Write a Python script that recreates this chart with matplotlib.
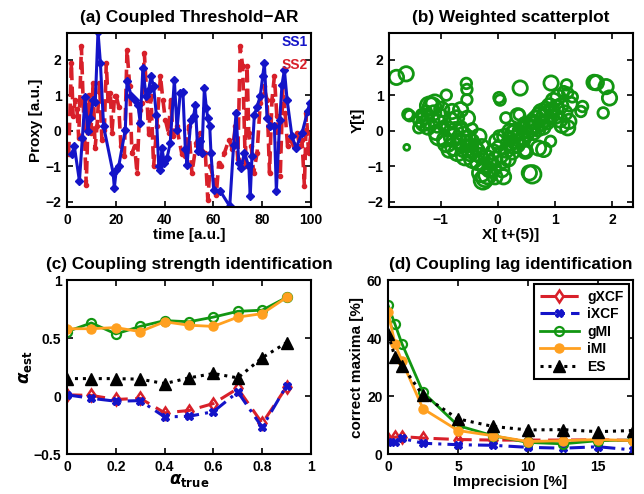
import matplotlib
matplotlib.use('Agg')
import matplotlib.pyplot as plt
import numpy as np

plt.rcParams['font.family'] = ['Liberation Sans', 'DejaVu Sans']
plt.rcParams['font.weight'] = 'bold'
plt.rcParams['axes.labelweight'] = 'bold'
plt.rcParams['axes.titleweight'] = 'bold'
plt.rcParams['mathtext.fontset'] = 'dejavusans'

# ---------------- (a) Coupled Threshold-AR ----------------
ss1_t = [2.0, 3.0, 5.1, 6.3, 7.4, 8.5, 9.6, 10.7, 11.6, 12.7, 13.7, 15.0, 18.9, 19.4, 20.2, 21.2,
         23.9, 24.6, 26.4, 27.7, 29.1, 30.0, 31.1, 32.4, 33.5, 34.4, 35.5, 36.6, 37.6, 38.3, 38.9,
         39.9, 41.0, 42.3, 44.0, 45.1, 46.4, 47.5, 48.5, 49.2, 50.8, 51.9, 52.6, 53.6, 54.4, 55.3,
         56.3, 57.1, 57.7, 58.5, 59.0, 60.1, 62.8, 66.7, 68.3, 69.3, 70.4, 71.3, 72.7, 74.5, 75.1,
         75.8, 76.8, 77.9, 79.2, 80.2, 80.9, 82.0, 83.3, 85.0, 85.8, 87.2, 88.1, 89.1, 90.2, 92.2,
         93.9, 96.3, 98.6, 99.5, 100.0]
ss1_v = [-0.65, -0.44, -1.42, -0.20, 0.94, 0.00, 0.36, 0.87, 0.82, 2.79, 1.90, 0.12, -1.19, -1.61,
         -1.10, -1.00, 0.03, 1.39, 0.97, 0.87, 0.73, 0.22, 1.76, 0.97, 1.15, 1.53, 1.25, 0.45, -1.00,
         -1.10, -0.49, -0.91, -0.77, -0.35, 1.43, 0.03, 1.06, 1.10, -0.53, -0.96, 0.31, 0.40, 0.73,
         -0.58, -0.30, -0.63, 1.20, 0.64, 0.36, 0.12, -0.63, -1.66, -1.70, -2.13, -0.39, 0.50, -0.91,
         -1.05, -0.63, -1.00, -1.85, -0.72, 0.45, 0.68, 0.97, 1.53, 1.90, 0.36, 0.12, 0.12, -1.70,
         0.31, 1.29, 1.71, 0.87, -0.16, -0.49, -0.07, 0.54, 0.78, 0.59]

ss2_t = [0.7, 1.8, 2.5, 3.4, 4.1, 4.8, 5.9, 6.6, 7.9, 8.9, 9.8, 10.7, 11.5, 12.3, 13.3, 14.3, 15.3,
         16.1, 16.8, 17.8, 18.4, 19.5, 20.2, 21.2, 22.1, 23.5, 24.6, 25.7, 26.6, 27.7, 28.7, 29.8,
         30.7, 31.7, 32.8, 33.5, 34.4, 35.5, 36.8, 38.3, 39.3, 40.3, 41.6, 42.5, 43.5, 44.9, 47.1,
         48.5, 49.9, 51.2, 53.0, 54.4, 55.3, 56.7, 57.7, 58.7, 60.1, 61.2, 62.2, 63.1, 64.5, 66.4,
         67.8, 69.0, 70.0, 71.0, 72.0, 73.1, 73.8, 74.5, 75.5, 76.5, 77.9, 79.2, 80.6, 82.0, 83.0,
         84.0, 85.0, 86.0, 87.4, 88.5, 89.4, 90.4, 91.5, 92.9, 94.3, 95.4, 96.3, 97.3, 98.1, 99.0, 100.0]
ss2_v = [-0.67, 1.90, 0.40, 0.87, 0.60, -0.20, 2.37, 0.87, -1.52, 1.01, -0.07, 1.34, -0.50, 0.12,
         1.34, -0.25, 0.03, 1.90, 0.87, 1.06, -0.07, 0.97, 0.97, 0.68, -0.44, -0.72, 2.28, 1.25,
         -0.63, -0.44, -1.19, 0.59, 0.78, 2.18, 0.87, -0.10, 0.97, -1.00, 0.12, 1.53, 0.87, 0.31,
         -0.07, 0.87, -0.16, 0.12, -0.67, -0.72, 0.12, -1.19, -0.35, -0.07, -0.58, -0.63, -1.94,
         -1.00, -1.38, -1.80, -0.91, -1.00, -0.63, -0.25, -0.53, 0.12, -0.81, 2.37, 1.81, -1.00,
         1.81, -0.07, -0.44, -1.19, -0.63, 0.78, 1.25, 0.87, -1.19, 0.87, 1.53, 0.40, -1.28, 1.25,
         0.50, -0.44, -0.25, -0.44, -0.07, -0.44, -0.25, -1.56, 0.50, -0.63, -0.07]

# ---------------- (b) Weighted scatterplot ----------------
sc_x = [-1.77, -1.60, -1.57, -1.54, -1.59, -1.38, -1.35, -1.33, -1.30, -1.27, -1.25, -1.22, -1.20,
        -1.18, -1.15, -1.12, -1.10, -1.08, -1.05, -1.03, -1.00, -0.98, -0.95, -0.93, -0.90, -0.89,
        -0.87, -0.85, -0.82, -0.80, -0.78, -0.76, -0.74, -0.72, -0.70, -0.68, -0.65, -0.63, -0.62,
        -0.60, -0.58, -0.57, -0.55, -0.54, -0.54, -0.53, -0.52, -0.50, -0.48, -0.46, -0.45, -0.43,
        -0.40, -0.38, -0.35, -0.33, -0.31, -0.29, -0.28, -0.26, -0.24, -0.22, -0.20, -0.18, -0.15,
        -0.12, -0.10, -0.08, -0.05, -0.02, 0.00,
        0.02, 0.04, 0.05, 0.07, 0.09, 0.12, 0.14, 0.15, 0.18, 0.21, 0.23, 0.25, 0.27, 0.28, 0.30,
        0.32, 0.34, 0.35, 0.37, 0.39, 0.40, 0.42, 0.44, 0.46, 0.48, 0.50, 0.52, 0.55, 0.60, 0.57,
        0.60, 0.62, 0.65, 0.67, 0.70, 0.71, 0.73, 0.75, 0.77, 0.79, 0.80, 0.82, 0.84, 0.86, 0.88,
        0.90, 0.92, 0.93, 0.95, 0.97, 1.00, 1.02, 1.05, 1.08, 1.10, 1.12, 1.15, 1.17, 1.20, 1.22,
        1.22, 1.24, 1.26, 1.30, 1.45, 1.48, 1.68, 1.72, 1.84, 1.89, 1.95, 0.02, -0.05, 0.10, 0.48]
sc_y = [1.50, 1.60, 0.46, 0.42, -0.47, 0.08, 0.30, 0.45, 0.20, 0.40, 0.55, 0.10, 0.70, 0.30, 0.68,
        0.50, 0.76, -0.05, 0.20, -0.16, 0.40, 0.60, 0.12, -0.25, 1.00, -0.35, 0.05, -0.55, 0.30,
        0.54, -0.20, -0.45, 0.03, 0.36, -0.60, -0.30, 0.59, 0.10, -0.35, -0.10, -0.50, -0.72, 1.33,
        1.16, 0.87, 0.35, -0.20, -0.50, -0.65, -0.30, 0.05, -0.80, -0.45, -0.60, -0.90, -0.16,
        -0.70, -1.19, -0.45, -1.40, -1.00, -1.33, -0.75, -1.25, -1.10, -0.90, -1.05, -0.60, -1.30,
        -0.30, -0.45,
        0.93, 0.86, -0.70, -1.10, -0.85, -0.16, 0.36, -0.55, -0.80, -0.02, -0.35, -0.60, -0.44,
        -0.10, -0.25, -0.05, -0.40, 0.42, 0.45, 1.20, -0.15, 0.00, -0.25, 0.22, -0.58, -0.10, 0.05,
        -1.19, -1.23, 0.10, 0.25, -0.05, 0.15, 0.30, 0.05, -0.49, 0.40, 0.20, 0.50, 0.10, -0.53,
        0.35, 0.60, 0.25, 0.45, 0.70, -0.30, 1.34, 0.55, 0.85, 0.40, 0.65, 0.95, 0.30, 0.70, 0.15,
        1.10, 0.50, 1.29, 1.06, 0.08, 0.26, 0.75, 0.95, 0.54, 0.68, 1.36, 1.35, 0.50, 1.24, 0.92,
        -0.15, -0.80, -1.30, -0.58]
sc_w = [3, 3, 2, 2, 1, 2, 3, 2, 3, 3, 2, 3, 4, 4, 4, 3, 4, 3, 4, 4, 3, 3, 2, 3, 2, 4, 3, 3, 3, 3,
        4, 4, 3, 3, 4, 3, 3, 2, 4, 3, 4, 4, 2, 2, 2, 3, 3, 4, 3, 3, 2, 4, 3, 4, 3, 3, 3, 4, 3, 4,
        3, 4, 3, 4, 3, 3, 4, 3, 3, 3, 2,
        2, 2, 3, 3, 3, 3, 2, 3, 3, 3, 3, 3, 3, 4, 4, 4, 3, 3, 2, 3, 4, 4, 3, 2, 3, 3, 4, 3, 4, 3,
        3, 3, 4, 4, 3, 3, 4, 3, 4, 3, 3, 4, 3, 3, 4, 3, 2, 3, 3, 3, 3, 3, 3, 3, 3, 3, 2, 3, 2, 2,
        3, 3, 3, 2, 2, 2, 3, 3, 2, 3, 3, 2, 3, 3, 2]

# ---------------- (c) Coupling strength identification ----------------
alpha_true = [0.0, 0.1, 0.2, 0.3, 0.4, 0.5, 0.6, 0.7, 0.8, 0.9]
c_gxcf = [0.01, 0.005, -0.03, -0.02, -0.145, -0.125, -0.065, 0.065, -0.235, 0.078]
c_ixcf = [0.01, -0.02, -0.045, -0.04, -0.18, -0.175, -0.135, 0.035, -0.27, 0.09]
c_gmi = [0.555, 0.63, 0.535, 0.60, 0.65, 0.64, 0.68, 0.73, 0.74, 0.85]
c_imi = [0.58, 0.58, 0.59, 0.555, 0.64, 0.61, 0.60, 0.68, 0.71, 0.85]
c_es = [0.15, 0.15, 0.15, 0.145, 0.107, 0.156, 0.194, 0.156, 0.33, 0.46]

# ---------------- (d) Coupling lag identification ----------------
imprecision = [0.0, 0.5, 1.0, 2.5, 5.0, 7.5, 10.0, 12.5, 15.0, 17.5]
d_gxcf = [5.2, 5.8, 6.0, 5.5, 5.0, 4.8, 4.8, 4.8, 4.9, 4.7]
d_ixcf = [4.0, 4.0, 5.4, 3.7, 3.2, 3.0, 2.3, 2.0, 2.5, 1.4]
d_gmi = [51.3, 44.7, 38.0, 21.3, 9.8, 6.3, 4.0, 3.5, 4.6, 4.8]
d_imi = [49.0, 38.0, 32.0, 15.6, 8.1, 6.3, 4.3, 4.6, 5.0, 4.6]
d_es = [41.5, 33.4, 30.5, 20.2, 12.1, 9.5, 8.3, 8.4, 7.7, 8.1]

RED = '#d8202a'
BLUE = '#1414c8'
GREEN = '#129612'
ORANGE = '#ffa020'

fig = plt.figure(figsize=(6.44, 4.94), dpi=100)
W, H = 644, 494


def make_ax(l, r, t, b):
    ax = fig.add_axes([l / W, 1 - b / H, (r - l) / W, (b - t) / H])
    for s in ax.spines.values():
        s.set_linewidth(1.5)
    ax.tick_params(direction='in', top=True, right=True, length=4, width=1.2,
                   labelsize=10, pad=4)
    return ax


def bold_ticks(ax):
    for lab in ax.get_xticklabels() + ax.get_yticklabels():
        lab.set_fontweight('bold')


TS = 12.4
LS = 11
TPAD = 8

# (a)
ax = make_ax(67, 311, 33, 207)
ax.plot(ss2_t, ss2_v, color=RED, lw=2.6, ls=(0, (3.5, 1.8)), marker='o', ms=3)
ax.plot(ss1_t, ss1_v, color=BLUE, lw=2.2, ls='-', marker='D', ms=4.5)
ax.set_xlim(0, 100)
ax.set_ylim(-2.15, 2.75)
ax.set_xticks([0, 20, 40, 60, 80, 100])
ax.set_yticks([-2, -1, 0, 1, 2])
ax.set_yticklabels(['\u22122', '\u22121', '0', '1', '2'])
ax.set_title('(a) Coupled Threshold\u2212AR', fontsize=TS, pad=TPAD)
ax.set_xlabel('time [a.u.]', fontsize=LS, labelpad=1)
ax.set_ylabel('Proxy [a.u.]', fontsize=LS, labelpad=2)
ax.text(0.985, 0.948, 'SS1', color=BLUE, transform=ax.transAxes, ha='right', va='center',
        fontsize=10, fontweight='bold')
ax.text(0.985, 0.818, 'SS2', color=RED, transform=ax.transAxes, ha='right', va='center',
        fontsize=10, fontweight='bold')
bold_ticks(ax)

# (b)
ax = make_ax(389, 633, 33, 207)
sizes = [18 + 40 * (w - 1) ** 1.15 for w in sc_w]
ax.scatter(sc_x, sc_y, s=sizes, facecolors='none', edgecolors=GREEN, linewidths=2)
ax.set_xlim(-1.9, 2.36)
ax.set_ylim(-2.15, 2.75)
ax.set_xticks([-1, 0, 1, 2])
ax.set_xticklabels(['\u22121', '0', '1', '2'])
ax.set_yticks([-2, -1, 0, 1, 2])
ax.set_yticklabels(['\u22122', '\u22121', '0', '1', '2'])
ax.set_title('(b) Weighted scatterplot', fontsize=TS, pad=TPAD)
ax.set_xlabel('X[ t+(5)]', fontsize=LS, labelpad=1)
ax.set_ylabel('Y[t]', fontsize=LS, labelpad=2)
bold_ticks(ax)

# (c)
ax = make_ax(67, 311, 280, 454)
ax.plot(alpha_true, c_gxcf, color=RED, lw=2.2, ls=(0, (5, 2.5)), marker='d', ms=6,
        mfc='none', mew=1.8)
ax.plot(alpha_true, c_ixcf, color=BLUE, lw=2.2, ls=(0, (5, 2, 1, 2)), marker='X', ms=6)
ax.plot(alpha_true, c_gmi, color=GREEN, lw=2.0, ls='-', marker='o', ms=6.5, mfc='none', mew=1.6)
ax.plot(alpha_true, c_imi, color=ORANGE, lw=2.0, ls='-', marker='o', ms=6.5)
ax.plot(alpha_true, c_es, color='black', lw=2.2, ls=(0, (1, 1.6)), marker='^', ms=8)
ax.set_xlim(0, 1)
ax.set_ylim(-0.5, 1)
ax.set_xticks([0, 0.2, 0.4, 0.6, 0.8, 1])
ax.set_xticklabels(['0', '0.2', '0.4', '0.6', '0.8', '1'])
ax.set_yticks([-0.5, 0, 0.5, 1])
ax.set_yticklabels(['\u22120.5', '0', '0.5', '1'])
ax.set_title('(c) Coupling strength identification', fontsize=TS, pad=TPAD)
ax.set_xlabel(r'$\alpha_{\mathbf{true}}$', fontsize=LS + 1, labelpad=-1)
ax.set_ylabel(r'$\alpha_{\mathbf{est}}$', fontsize=LS + 1, labelpad=0)
bold_ticks(ax)

# (d)
ax = make_ax(388, 633, 280, 454)
ax.plot(imprecision, d_gxcf, color=RED, lw=2.2, ls=(0, (5, 2.5)), marker='d', ms=6,
        mfc='none', mew=1.8, label='gXCF')
ax.plot(imprecision, d_ixcf, color=BLUE, lw=2.2, ls=(0, (5, 2, 1, 2)), marker='X', ms=6,
        label='iXCF')
ax.plot(imprecision, d_gmi, color=GREEN, lw=2.0, ls='-', marker='o', ms=6.5, mfc='none', mew=1.6,
        label='gMI')
ax.plot(imprecision, d_imi, color=ORANGE, lw=2.0, ls='-', marker='o', ms=6.5, label='iMI')
ax.plot(imprecision, d_es, color='black', lw=2.2, ls=(0, (1, 1.6)), marker='^', ms=8, label='ES')
ax.set_xlim(0, 17.5)
ax.set_ylim(0, 60)
ax.set_xticks([0, 5, 10, 15])
ax.set_yticks([0, 20, 40, 60])
ax.set_title('(d) Coupling lag identification', fontsize=TS, pad=TPAD)
ax.set_xlabel('Imprecision [%]', fontsize=LS, labelpad=1)
ax.set_ylabel('correct maxima [%]', fontsize=LS, labelpad=2)
leg = ax.legend(loc='upper right', fontsize=10, frameon=True, fancybox=False, framealpha=1,
                edgecolor='black', handlelength=2.8, labelspacing=0.25, borderaxespad=0.3,
                borderpad=0.4, handletextpad=0.6)
leg.get_frame().set_linewidth(1.5)
for t in leg.get_texts():
    t.set_fontweight('bold')
bold_ticks(ax)

fig.savefig('out.png', dpi=100)
